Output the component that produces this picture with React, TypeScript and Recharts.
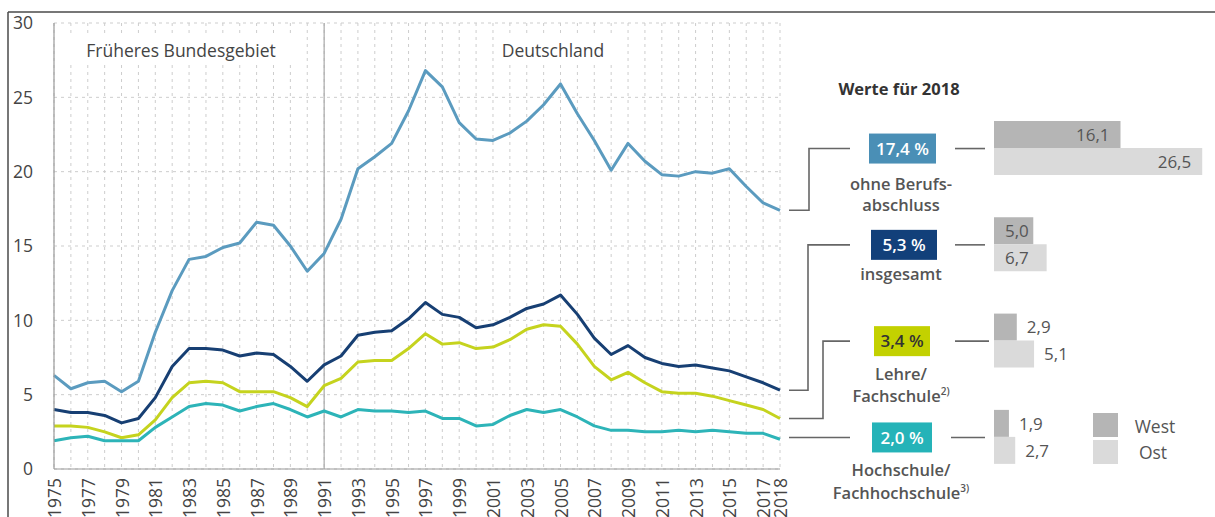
import React from 'react';
import { LineChart, Line, XAxis, YAxis, CartesianGrid, ReferenceLine, BarChart, Bar, LabelList } from 'recharts';

const years = [1975,1976,1977,1978,1979,1980,1981,1982,1983,1984,1985,1986,1987,1988,1989,1990,1991,1992,1993,1994,1995,1996,1997,1998,1999,2000,2001,2002,2003,2004,2005,2006,2007,2008,2009,2010,2011,2012,2013,2014,2015,2016,2017,2018];
const ohneBerufsabschluss = [6.3,5.4,5.8,5.9,5.2,5.9,9.2,12.0,14.1,14.3,14.9,15.2,16.6,16.4,15.0,13.3,14.5,16.8,20.2,21.0,21.9,24.1,26.8,25.7,23.3,22.2,22.1,22.6,23.4,24.5,25.9,23.9,22.1,20.1,21.9,20.7,19.8,19.7,20.0,19.9,20.2,19.0,17.9,17.4];
const insgesamt = [4.0,3.8,3.8,3.6,3.1,3.4,4.8,6.9,8.1,8.1,8.0,7.6,7.8,7.7,6.9,5.9,7.0,7.6,9.0,9.2,9.3,10.1,11.2,10.4,10.2,9.5,9.7,10.2,10.8,11.1,11.7,10.4,8.8,7.7,8.3,7.5,7.1,6.9,7.0,6.8,6.6,6.2,5.8,5.3];
const lehreFachschule = [2.9,2.9,2.8,2.5,2.1,2.3,3.3,4.8,5.8,5.9,5.8,5.2,5.2,5.2,4.8,4.2,5.6,6.1,7.2,7.3,7.3,8.1,9.1,8.4,8.5,8.1,8.2,8.7,9.4,9.7,9.6,8.4,6.9,6.0,6.5,5.8,5.2,5.1,5.1,4.9,4.6,4.3,4.0,3.4];
const hochschule = [1.9,2.1,2.2,1.9,1.9,1.9,2.8,3.5,4.2,4.4,4.3,3.9,4.2,4.4,4.0,3.5,3.9,3.5,4.0,3.9,3.9,3.8,3.9,3.4,3.4,2.9,3.0,3.6,4.0,3.8,4.0,3.5,2.9,2.6,2.6,2.5,2.5,2.6,2.5,2.6,2.5,2.4,2.4,2.0];

const labelYears = [1975,1977,1979,1981,1983,1985,1987,1989,1991,1993,1995,1997,1999,2001,2003,2005,2007,2009,2011,2013,2015,2017,2018];
const yTicks = [0,5,10,15,20,25,30];

const barCategories = ['ohne Berufsabschluss','insgesamt','Lehre/Fachschule','Hochschule/Fachhochschule'];
const westValues = [16.1,5.0,2.9,1.9];
const ostValues = [26.5,6.7,5.1,2.7];

const lineRows = years.map((y, i) => ({
  year: y,
  ohne: ohneBerufsabschluss[i],
  ins: insgesamt[i],
  lehre: lehreFachschule[i],
  hoch: hochschule[i],
}));
const barRows = barCategories.map((c, i) => ({ cat: c, west: westValues[i], ost: ostValues[i] }));

const FONT = '"Open Sans", sans-serif';
const TXT = '#444';
const fmt = (v: number) => v.toFixed(1).replace('.', ',');

const C_OHNE = '#5b9bbf';
const C_INS = '#173f73';
const C_LEHRE = '#c5d31e';
const C_HOCH = '#2db4b8';

// geometry of the plot (used only for annotation connectors)
const PLOT_TOP = 23, PLOT_BOTTOM = 469;
const yOf = (v: number) => PLOT_TOP + (30 - v) * (PLOT_BOTTOM - PLOT_TOP) / 30;

const BAR_TOP = 100.4, BAND = 96.3;
const centerOf = (i: number) => BAR_TOP + BAND * (i + 0.5);

const YearTick = (props: any) => {
  const { x, y, payload } = props;
  const v = payload.value;
  if (!labelYears.includes(v)) return <g />;
  const ty = y + 1;
  return (
    <text x={x} y={ty} transform={`rotate(-90 ${x} ${ty})`} textAnchor="end" dominantBaseline="central"
      fill={TXT} fontSize={17.5} fontFamily={FONT}>{v}</text>
  );
};

const makeLabel = (p: any) => {
  const { x, y, width, height, value, index } = p;
  let tx: number, anchor: any;
  if (index === 0) { tx = x + width - 11; anchor = 'end'; }
  else if (index === 1) { tx = x + 11; anchor = 'start'; }
  else { tx = x + width + 10; anchor = 'start'; }
  return (
    <text x={tx} y={y + height / 2} dy="0.36em" textAnchor={anchor} fill="#555" fontSize={17} fontFamily={FONT}>{fmt(value)}</text>
  );
};

const lastVal = (arr: number[]) => arr[arr.length - 1];

const boxes = [
  { val: lastVal(ohneBerufsabschluss), color: '#4a8fb6', text: '#fff', x0: 869, w: 67, lines: ['ohne Berufs-', 'abschluss'], base: [190, 211], sup: ['', ''] },
  { val: lastVal(insgesamt), color: '#12407a', text: '#fff', x0: 871, w: 66, lines: ['insgesamt'], base: [280], sup: [''] },
  { val: lastVal(lehreFachschule), color: '#c3d100', text: '#333', x0: 874, w: 56, lines: ['Lehre/', 'Fachschule'], base: [380, 402], sup: ['', '2)'] },
  { val: lastVal(hochschule), color: '#25b3b8', text: '#fff', x0: 872, w: 60, lines: ['Hochschule/', 'Fachhochschule'], base: [476, 499], sup: ['', '3)'] },
];

const connectorsX = [809, 808, 823, 850];
const rightLines = [[955, 985], [955, 985], [955, 989], [951, 985]];
const seriesEnds = [lastVal(ohneBerufsabschluss), lastVal(insgesamt), lastVal(lehreFachschule), lastVal(hochschule)];

export default function App() {
  return (
    <div style={{ position: 'absolute', left: 0, top: 0, width: 1215, height: 517, background: '#fff', fontFamily: FONT, overflow: 'hidden' }}>
      <div style={{ position: 'absolute', left: 0, top: 0 }}>
        <LineChart width={800} height={517} data={lineRows} margin={{ top: 23, right: 20, bottom: 0, left: 0 }}>
          <CartesianGrid stroke="#cdcdcd" strokeDasharray="3 4" />
          <XAxis dataKey="year" type="number" domain={[1975, 2018]} ticks={years} interval={0}
            tick={<YearTick />} height={48} tickLine={false} axisLine={{ stroke: '#9a9a9a', strokeWidth: 1.2 }} />
          <YAxis domain={[0, 30]} ticks={yTicks} width={54} tickLine={false} tickMargin={15}
            axisLine={{ stroke: '#9a9a9a', strokeWidth: 1.2 }} tick={{ fill: TXT, fontSize: 17.5, fontFamily: FONT }} />
          <ReferenceLine x={1991} stroke="#a8a8a8" strokeWidth={1.2} />
          <Line dataKey="ohne" stroke={C_OHNE} strokeWidth={3} dot={false} isAnimationActive={false} strokeLinejoin="round" />
          <Line dataKey="ins" stroke={C_INS} strokeWidth={3} dot={false} isAnimationActive={false} strokeLinejoin="round" />
          <Line dataKey="lehre" stroke={C_LEHRE} strokeWidth={3} dot={false} isAnimationActive={false} strokeLinejoin="round" />
          <Line dataKey="hoch" stroke={C_HOCH} strokeWidth={3} dot={false} isAnimationActive={false} strokeLinejoin="round" />
        </LineChart>
      </div>

      <div style={{ position: 'absolute', left: 994, top: BAR_TOP }}>
        <BarChart layout="vertical" width={220} height={BAND * 4} data={barRows} margin={{ top: 0, right: 0, bottom: 0, left: 0 }} barGap={0} barSize={27}>
          <XAxis type="number" domain={[0, 28]} hide />
          <YAxis type="category" dataKey="cat" hide />
          <Bar dataKey="west" fill="#b5b5b5" isAnimationActive={false}>
            <LabelList dataKey="west" content={makeLabel} />
          </Bar>
          <Bar dataKey="ost" fill="#dadada" isAnimationActive={false}>
            <LabelList dataKey="ost" content={makeLabel} />
          </Bar>
        </BarChart>
      </div>

      <svg width={1215} height={517} style={{ position: 'absolute', left: 0, top: 0, pointerEvents: 'none' }}>
        {/* frame */}
        <line x1={8} y1={12} x2={1215} y2={12} stroke="#4a4a4a" strokeWidth={1.5} />
        <line x1={8} y1={12} x2={8} y2={517} stroke="#4a4a4a" strokeWidth={1.5} />

        {/* region titles */}
        <rect x={68} y={33} width={228} height={32} fill="#fff" />
        <text x={181} y={57} textAnchor="middle" fill={TXT} fontSize={17.5} fontFamily={FONT}>Früheres Bundesgebiet</text>
        <rect x={494} y={36} width={118} height={28} fill="#fff" />
        <text x={553} y={57} textAnchor="middle" fill={TXT} fontSize={17.5} fontFamily={FONT}>Deutschland</text>

        <text x={899} y={95} textAnchor="middle" fill="#333" fontSize={16.5} fontWeight={700} fontFamily={FONT}>Werte für 2018</text>

        {boxes.map((b, i) => {
          const cy = centerOf(i);
          const ye = yOf(seriesEnds[i]);
          const cx = connectorsX[i];
          const d = i === 3 ? `M789,${cy} H850` : `M789,${ye} H${cx} V${cy} H850`;
          return (
            <g key={i}>
              <path d={d} fill="none" stroke="#666" strokeWidth={1.6} />
              <line x1={rightLines[i][0]} x2={rightLines[i][1]} y1={cy} y2={cy} stroke="#666" strokeWidth={1.6} />
              <rect x={b.x0} y={cy - 15} width={b.w} height={30} fill={b.color} />
              <text x={b.x0 + b.w / 2} y={cy} dy="0.36em" textAnchor="middle" fill={b.text} fontSize={17} fontWeight={600} fontFamily={FONT}>
                {fmt(b.val) + ' %'}
              </text>
              {b.lines.map((l, j) => (
                <text key={j} x={901} y={b.base[j]} textAnchor="middle" fill="#555" fontSize={16.5} fontWeight={600} fontFamily={FONT}>
                  {l}
                  {b.sup[j] ? <tspan fontSize={10} dy={-7}>{b.sup[j]}</tspan> : null}
                </text>
              ))}
            </g>
          );
        })}

        {/* legend */}
        <rect x={1093} y={413} width={25} height={24} fill="#b5b5b5" />
        <rect x={1093} y={440} width={25} height={24} fill="#dadada" />
        <text x={1155} y={433} textAnchor="middle" fill="#555" fontSize={17.5} fontFamily={FONT}>West</text>
        <text x={1153} y={459} textAnchor="middle" fill="#555" fontSize={17.5} fontFamily={FONT}>Ost</text>
      </svg>
    </div>
  );
}
